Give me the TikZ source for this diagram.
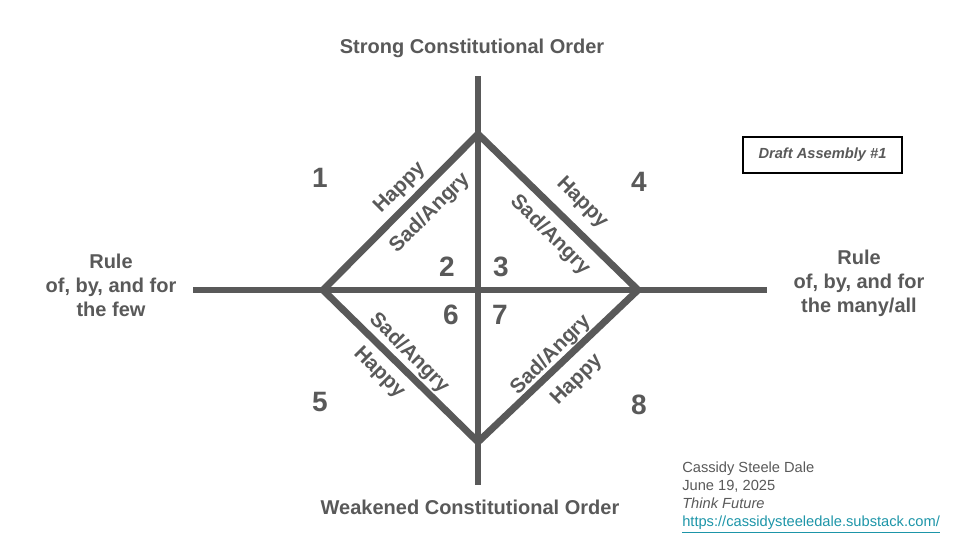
\documentclass[tikz,border=0pt]{standalone}
\usepackage{fontspec}
\setmainfont{Liberation Sans}
\usepackage{xcolor}
\definecolor{ink}{HTML}{595959}
\definecolor{linkc}{HTML}{1D95A8}

\begin{document}
\begin{tikzpicture}[x=0.75pt,y=-0.75pt,
  bar/.style={line width=5.2pt,draw=ink},
  num/.style={text=ink,font=\fontsize{21}{21}\selectfont\bfseries},
  mood/.style={text=ink,font=\fontsize{15.5}{16}\selectfont\bfseries,inner sep=0pt},
  head/.style={text=ink,font=\fontsize{15}{18}\selectfont\bfseries,align=center}]
\useasboundingbox (0,0) rectangle (960,540);
\coordinate (N) at (478,76);
\coordinate (S) at (478,485);
\coordinate (W) at (193,290);
\coordinate (E) at (767,290);
\coordinate (T) at (478,134);
\coordinate (L) at (323,290);
\coordinate (R) at (638,290);
\coordinate (B) at (478,442);
\draw[bar] (N) -- (S);
\draw[bar] (W) -- (E);
\draw[bar] (T) -- (R) -- (B) -- (L) -- cycle;
\node[head] (strong) at (472,48) {Strong Constitutional Order};
\node[head] (weak) at (470,507) {Weakened Constitutional Order};
\node[head] (few) at (111,285) {Rule\\of, by, and for\\the few};
\node[head] (many) at (859,283) {Rule\\of, by, and for\\the many/all};
\node[num] (n1) at (320,178) {1};
\node[num] (n2) at (447,267) {2};
\node[num] (n3) at (501,267) {3};
\node[num] (n4) at (639,182) {4};
\node[num] (n5) at (320,402) {5};
\node[num] (n6) at (451,315) {6};
\node[num] (n7) at (500,315) {7};
\node[num] (n8) at (639,405) {8};
\node[mood,rotate=45] (h1) at (400,188) {Happy};
\node[mood,rotate=45] (s1) at (430,213) {Sad/Angry};
\node[mood,rotate=-45] (h4) at (582,203) {Happy};
\node[mood,rotate=-45] (s4) at (550,235) {Sad/Angry};
\node[mood,rotate=-45] (s5) at (409,353) {Sad/Angry};
\node[mood,rotate=-45] (h5) at (379,373) {Happy};
\node[mood,rotate=45] (s8) at (551,355) {Sad/Angry};
\node[mood,rotate=45] (h8) at (577,380) {Happy};
\node[draw=black,line width=1.3pt,minimum width=119.25pt,minimum height=27pt,text=ink,
  font=\fontsize{11}{13}\selectfont\bfseries\itshape] (draft) at (822.5,155) {Draft Assembly \#1};
\node[anchor=north west,inner sep=0pt,align=left,text=ink,
  font=\fontsize{11}{13.5}\selectfont] (credit) at (682,462)
  {Cassidy Steele Dale\\June 19, 2025\\\textit{Think Future}\\
   \textcolor{linkc}{\underline{https://cassidysteeledale.substack.com/}}};
\end{tikzpicture}
\end{document}
